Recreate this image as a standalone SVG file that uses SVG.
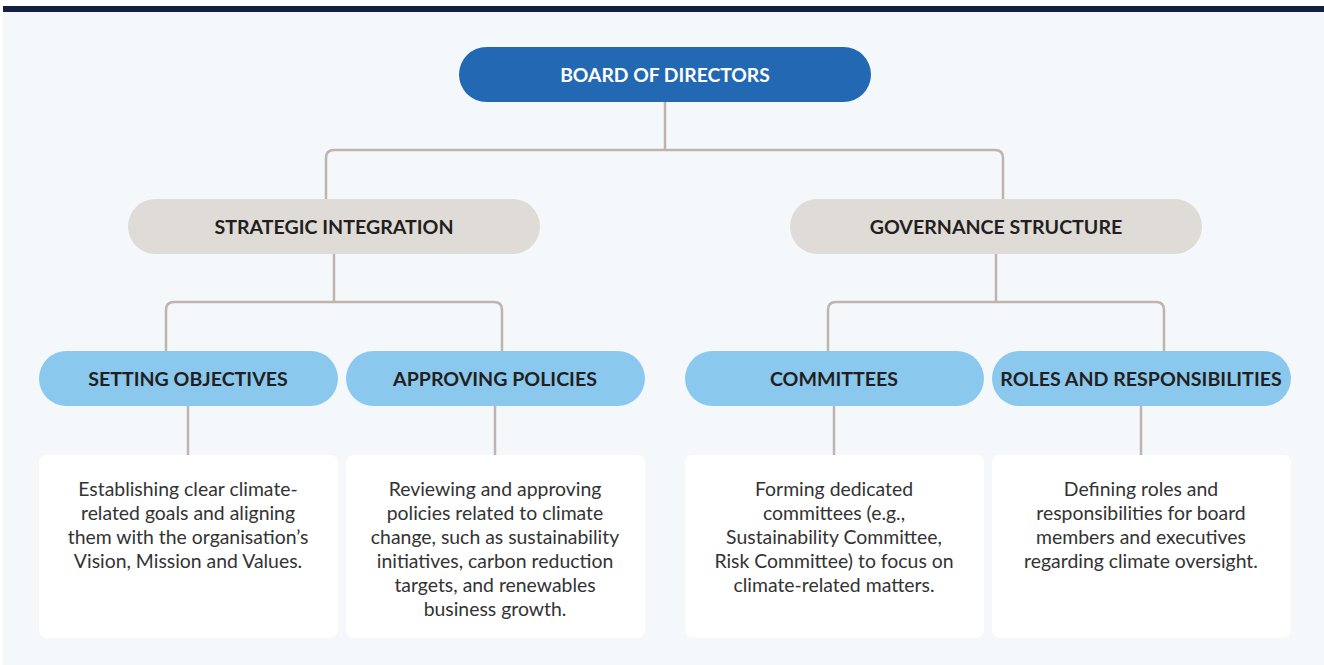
<svg xmlns="http://www.w3.org/2000/svg" width="1324" height="665" viewBox="0 0 1324 665">
<style>
.l1{fill:#2268b3}
.l2{fill:#dfdbd6}
.l3{fill:#8bc8ee}
.box{fill:#ffffff}
.t1{font-family:Lato,"Open Sans",sans-serif;font-weight:700;font-size:19.3px;fill:#ffffff;text-anchor:middle}
.t2{font-family:Lato,"Open Sans",sans-serif;font-weight:700;font-size:19.6px;fill:#231f20;text-anchor:middle}
.tb{font-family:Lato,"Open Sans",sans-serif;font-size:19.4px;fill:#333333;text-anchor:middle}
.c{fill:none;stroke:#bfb5ae;stroke-width:2.5}
</style>
<rect x="0" y="0" width="1324" height="665" fill="#ffffff"/>
<rect x="3" y="12" width="1321" height="653" fill="#f5f8fb"/>
<rect x="3" y="6" width="1321" height="6" fill="#13213f"/>
<g id="connectors">
<path class="c" d="M665 102 V150 M326 199 V158 Q326 150 334 150 H995 Q1003 150 1003 158 V199"/>
<path class="c" d="M334 254 V302 M166 351 V310 Q166 302 174 302 H494 Q502 302 502 310 V351"/>
<path class="c" d="M996 254 V302 M828 351 V310 Q828 302 836 302 H1156 Q1164 302 1164 310 V351"/>
<path class="c" d="M188 406 V455 M495 406 V455 M834 406 V455 M1141 406 V455"/>
</g>
<g id="board"><rect class="l1" x="459" y="47" width="412" height="55" rx="27.5"/><text class="t1" x="665" y="82">BOARD OF DIRECTORS</text></g>
<g id="strategic"><rect class="l2" x="128" y="199" width="412" height="55" rx="27.5"/><text class="t2" x="334" y="234">STRATEGIC INTEGRATION</text></g>
<g id="governance"><rect class="l2" x="790" y="199" width="412" height="55" rx="27.5"/><text class="t2" x="996" y="234">GOVERNANCE STRUCTURE</text></g>
<g id="setting"><rect class="l3" x="39" y="351" width="299" height="55" rx="27.5"/><text class="t2" x="188" y="386">SETTING OBJECTIVES</text></g>
<g id="approving"><rect class="l3" x="346" y="351" width="299" height="55" rx="27.5"/><text class="t2" x="495" y="386">APPROVING POLICIES</text></g>
<g id="committees"><rect class="l3" x="685" y="351" width="299" height="55" rx="27.5"/><text class="t2" x="834" y="386">COMMITTEES</text></g>
<g id="roles"><rect class="l3" x="992" y="351" width="299" height="55" rx="27.5"/><text class="t2" x="1141" y="386">ROLES AND RESPONSIBILITIES</text></g>
<g id="setting-desc"><rect class="box" x="39" y="455" width="299" height="183" rx="8"/>
<text class="tb" x="188" y="496">Establishing clear climate-</text>
<text class="tb" x="188" y="520">related goals and aligning</text>
<text class="tb" x="188" y="544">them with the organisation’s</text>
<text class="tb" x="188" y="568">Vision, Mission and Values.</text></g>
<g id="approving-desc"><rect class="box" x="346" y="455" width="299" height="183" rx="8"/>
<text class="tb" x="495" y="496">Reviewing and approving</text>
<text class="tb" x="495" y="520">policies related to climate</text>
<text class="tb" x="495" y="544">change, such as sustainability</text>
<text class="tb" x="495" y="568">initiatives, carbon reduction</text>
<text class="tb" x="495" y="592">targets, and renewables</text>
<text class="tb" x="495" y="616">business growth.</text></g>
<g id="committees-desc"><rect class="box" x="685" y="455" width="299" height="183" rx="8"/>
<text class="tb" x="834" y="496">Forming dedicated</text>
<text class="tb" x="834" y="520">committees (e.g.,</text>
<text class="tb" x="834" y="544">Sustainability Committee,</text>
<text class="tb" x="834" y="568">Risk Committee) to focus on</text>
<text class="tb" x="834" y="592">climate-related matters.</text></g>
<g id="roles-desc"><rect class="box" x="992" y="455" width="299" height="183" rx="8"/>
<text class="tb" x="1141" y="496">Defining roles and</text>
<text class="tb" x="1141" y="520">responsibilities for board</text>
<text class="tb" x="1141" y="544">members and executives</text>
<text class="tb" x="1141" y="568">regarding climate oversight.</text></g>
</svg>
